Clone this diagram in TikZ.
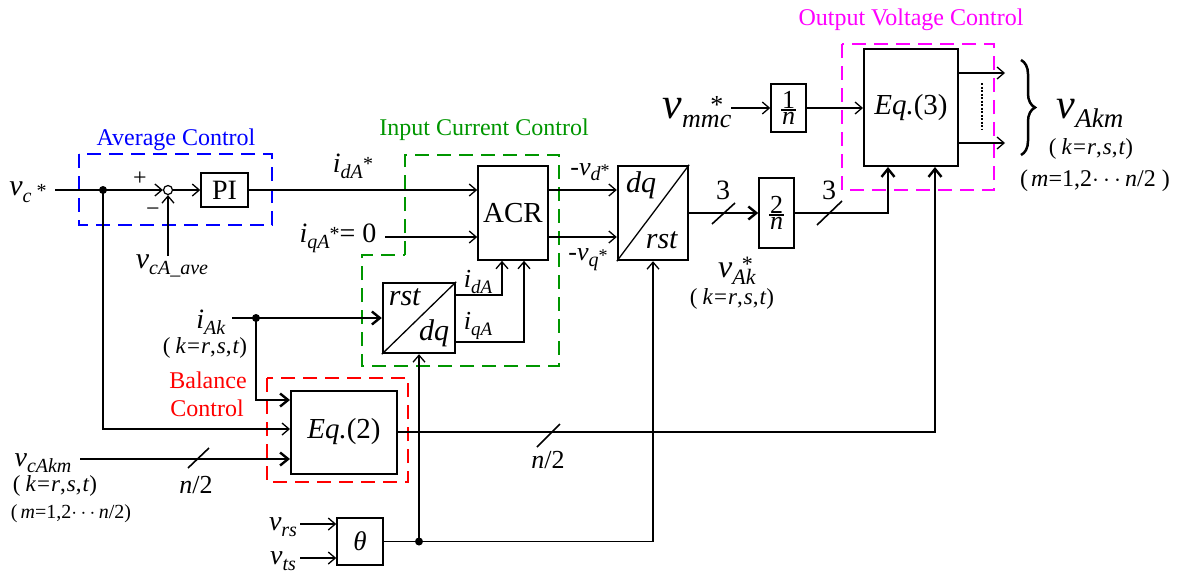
\documentclass[tikz,border=0pt]{standalone}
\usepackage{fontspec}
\setmainfont{Liberation Serif}
\usetikzlibrary{arrows.meta,decorations.pathreplacing}
\definecolor{cblue}{RGB}{0,0,255}
\definecolor{cgreen}{RGB}{0,150,0}
\definecolor{cred}{RGB}{255,0,0}
\definecolor{cmag}{RGB}{255,0,255}
\newcommand\fs[1]{\fontsize{#1}{#1}\selectfont}
\newcommand\sbs[2]{\raisebox{-0.22em}{\fs{#1}\textit{#2}}}
\newcommand\mfrac[2]{\vbox{\hbox to 15pt{\hss#1\hss}\kern1pt\hrule height 1.3pt\kern2pt\hbox to 15pt{\hss#2\hss}}}
\begin{document}
\begin{tikzpicture}[x=1pt,y=-1pt,
  lbl/.style={inner sep=0pt,anchor=center},
  blk/.style={draw,inner sep=0pt},
  arr/.style={line width=1.3pt,-{Straight Barb[length=7pt,width=12pt]}},
  bus/.style={line width=2.4pt},
  busarr/.style={line width=2.4pt,-{Straight Barb[length=8pt,width=13pt]}},
  jdot/.style={circle,fill,inner sep=0pt,minimum size=8pt},
  grp/.style={line width=2.6pt,dash pattern=on 14pt off 8pt},
  slash/.style={line width=1.6pt}]
\useasboundingbox (0,0) rectangle (1179,574);
% dashed groups
\draw[grp,cblue] (79,154) rectangle (272,225);
\draw[grp,cgreen] (405,255) -- (405,155) -- (559,155) -- (559,366) -- (362,366) -- (362,255) -- cycle;
\draw[grp,cred] (267,378) rectangle (408,482);
\draw[grp,cmag] (842,44) rectangle (994,190);
\node[lbl,text=cblue] (tavg) at (176,140) {\fs{24}Average Control};
\node[lbl,text=cgreen] (ticc) at (484,130) {\fs{24}Input Current Control};
\node[lbl,text=cmag] (tovc) at (911,20) {\fs{24}Output Voltage Control};
\node[lbl,text=cred] (tbal1) at (208,380) {\fs{24}Balance};
\node[lbl,text=cred] (tbal2) at (207,408) {\fs{24}Control};
% blocks
\node[blk,circle,minimum size=9pt,line width=1.2pt] (sum) at (168,190) {};
\node[blk,minimum width=47pt,minimum height=34pt,line width=1.5pt] (pi) at (224.5,190) {\fs{28}PI};
\node[blk,minimum width=70pt,minimum height=94pt,line width=1.6pt] (acr) at (513,213) {\fs{29}ACR};
\node[blk,minimum width=72pt,minimum height=70pt,line width=2.4pt] (rd) at (419,318) {};
\draw[line width=1.3pt] (rd.south west) -- (rd.north east);
\node[lbl] (trst1) at (405,297) {\fs{30}\textit{rst}};
\node[lbl] (tdq1) at (434,333) {\fs{30}\textit{dq}};
\node[blk,minimum width=70pt,minimum height=94pt,line width=2.4pt] (dr) at (653,213) {};
\draw[line width=1.3pt] (dr.south west) -- (dr.north east);
\node[lbl] (tdq2) at (641,185) {\fs{30}\textit{dq}};
\node[lbl] (trst2) at (662,240) {\fs{30}\textit{rst}};
\node[blk,minimum width=35pt,minimum height=70pt,line width=1.5pt,font=\fs{26}] (tn) at (776.5,213) {\mfrac{2}{\textit{n}}};
\node[blk,minimum width=35pt,minimum height=48pt,line width=1.5pt,font=\fs{26}] (on) at (788.5,108) {\mfrac{1}{\textit{n}}};
\node[blk,minimum width=94pt,minimum height=117pt,line width=2pt] (eq3) at (911,107.5) {\fs{29}\textit{Eq.}(3)};
\node[blk,minimum width=106pt,minimum height=83pt,line width=2pt] (eq2) at (344,432) {\fs{29}\textit{Eq.}(2)};
\node[blk,minimum width=46pt,minimum height=47pt,line width=1.5pt] (th) at (360,541.5) {\fs{27}\textit{θ}};
% average control
\coordinate (vcin) at (55,190);
\node[jdot] (d1) at (103,190) {};
\draw[arr] (vcin) -- (sum.west);
\draw[arr] (sum.east) -- (pi.west);
\coordinate (vca) at (168,256);
\draw[arr] (vca) -- (sum.south);
\draw[arr] (pi.east) -- (pi.east -| acr.west);
\coordinate (iq) at (385,237);
\draw[arr] (iq) -- (iq -| acr.west);
\draw[arr] (acr.east |- pi.east) -- (pi.east -| dr.west);
\draw[arr] (acr.east |- iq) -- (iq -| dr.west);
\draw[arr] ([yshift=23pt]rd.east) -| ([xshift=-11pt]acr.south);
\draw[arr] ([yshift=-24pt]rd.east) -| ([xshift=11pt]acr.south);
% iAk
\coordinate (iak) at (232,318);
\draw[busarr] (iak) -- (rd.west);
\node[jdot] (d2) at (256,318) {};
\draw[busarr] (d2.center) |- ([yshift=32pt]eq2.west);
\draw[arr] (d1.center) |- ([yshift=3pt]eq2.west);
\coordinate (vck) at (80,459);
\draw[busarr] (vck) -- (vck -| eq2.west);
\draw[busarr] (eq2.east) -| ([xshift=24pt]eq3.south);
% theta
\coordinate (vrs) at (300,524);
\coordinate (vts) at (300,558);
\draw[arr] (vrs) -- (vrs -| th.west);
\draw[arr] (vts) -- (vts -| th.west);
\draw[arr] (th.east) -| (dr.south);
\node[jdot] (d3) at (rd.south |- th.east) {};
\draw[arr] (d3.center) -- (rd.south);
% output path
\draw[busarr] (dr.east) -- (tn.west);
\draw[busarr] (tn.east) -| ([xshift=-23pt]eq3.south);
\coordinate (vm) at (731,108);
\draw[arr] (vm) -- (on.west);
\draw[arr] (on.east) -- (on.east -| eq3.west);
\coordinate (o1) at (1005,73);
\coordinate (o2) at (1005,143);
\draw[arr] (o1 -| eq3.east) -- (o1);
\draw[arr] (o2 -| eq3.east) -- (o2);
\draw[line width=1.2pt,dash pattern=on 2pt off 1.5pt] (982,83) -- (982,129);
\draw[line width=2.5pt,decorate,decoration={brace,amplitude=14pt}] (1021,60) -- (1021,155);
% slashes
\draw[slash] (188,468) -- (209,448);
\draw[slash] (537,447) -- (560,424);
\draw[slash] (712,224) -- (735,203);
\draw[slash] (817,225) -- (842,201);
% labels
\node[lbl] (tvc) at (28,192) {\fs{30}\textit{v}\sbs{20}{c}\,\raisebox{-2pt}{\fs{20}*}};
\node[lbl] (tplus) at (140,179) {\fs{24}+};
\node[lbl] (tminus) at (153,212) {\fs{24}−};
\node[lbl] (tvca) at (172,266) {\fs{30}\textit{v}\sbs{20}{cA\_ave}};
\node[lbl] (tid) at (353,166) {\fs{28}\textit{i}\sbs{20}{dA}\raisebox{2pt}{\fs{20}*}};
\node[lbl] (tiq) at (338,238) {\fs{28}\textit{i}\sbs{20}{qA}\raisebox{2pt}{\fs{20}*}= 0};
\node[lbl] (tvd) at (590,172) {\fs{26}-\textit{v}\sbs{20}{d}\raisebox{-1pt}{\fs{18}*}};
\node[lbl] (tvq) at (588,260) {\fs{26}-\textit{v}\sbs{20}{q}\raisebox{-1pt}{\fs{18}*}};
\node[lbl] (tida) at (478,282) {\fs{26}\textit{i}\sbs{19}{dA}};
\node[lbl] (tiqa) at (478,326) {\fs{26}\textit{i}\sbs{19}{qA}};
\node[lbl] (tiak) at (211,322) {\fs{28}\textit{i}\sbs{20}{Ak}};
\node[lbl] (tk1) at (205,348) {\fs{23}(\hspace{5pt}\textit{k}\hspace{1pt}=\hspace{1pt}\textit{r},\hspace{1pt}\textit{s},\hspace{1pt}\textit{t})};
\node[lbl] (tvck) at (43,463) {\fs{28}\textit{v}\sbs{20}{cAkm}};
\node[lbl] (tk2) at (55,486) {\fs{23}(\hspace{5pt}\textit{k}\hspace{1pt}=\hspace{1pt}\textit{r},\hspace{1pt}\textit{s},\hspace{1pt}\textit{t})};
\node[lbl] (tm2) at (71,514) {\fs{20}(\hspace{3pt}\textit{m}=1,2$\cdots$\,\textit{n}/2)};
\node[lbl] (tn1) at (196,485) {\fs{26}\textit{n}/2};
\node[lbl] (tn2) at (548,460) {\fs{26}\textit{n}/2};
\node[lbl] (tvrs) at (283,527) {\fs{28}\textit{v}\sbs{20}{rs}};
\node[lbl] (tvts) at (283,561) {\fs{28}\textit{v}\sbs{20}{ts}};
\node[lbl] (t31) at (723,190) {\fs{28}3};
\node[lbl] (t32) at (829,190) {\fs{28}3};
\node[lbl] (tvak) at (737,271) {\fs{32}\textit{v}\sbs{22}{Ak}\llap{\raisebox{6pt}{\fs{22}*}\hspace{3pt}}};
\node[lbl] (tk3) at (732,299) {\fs{23}(\hspace{5pt}\textit{k}\hspace{1pt}=\hspace{1pt}\textit{r},\hspace{1pt}\textit{s},\hspace{1pt}\textit{t})};
\node[lbl] (tvm) at (697,112) {\fs{44}\textit{v}\sbs{26}{mmc}\llap{\raisebox{5pt}{\fs{26}*}\hspace{8pt}}};
\node[lbl] (tvakm) at (1090,113) {\fs{42}\textit{v}\sbs{27}{Akm}};
\node[lbl] (tk4) at (1091,149) {\fs{23}(\hspace{5pt}\textit{k}\hspace{1pt}=\hspace{1pt}\textit{r},\hspace{1pt}\textit{s},\hspace{1pt}\textit{t})};
\node[lbl] (tm4) at (1095,181) {\fs{24}(\hspace{3pt}\textit{m}=1,2$\cdots$\,\textit{n}/2\hspace{6pt})};
\end{tikzpicture}
\end{document}
